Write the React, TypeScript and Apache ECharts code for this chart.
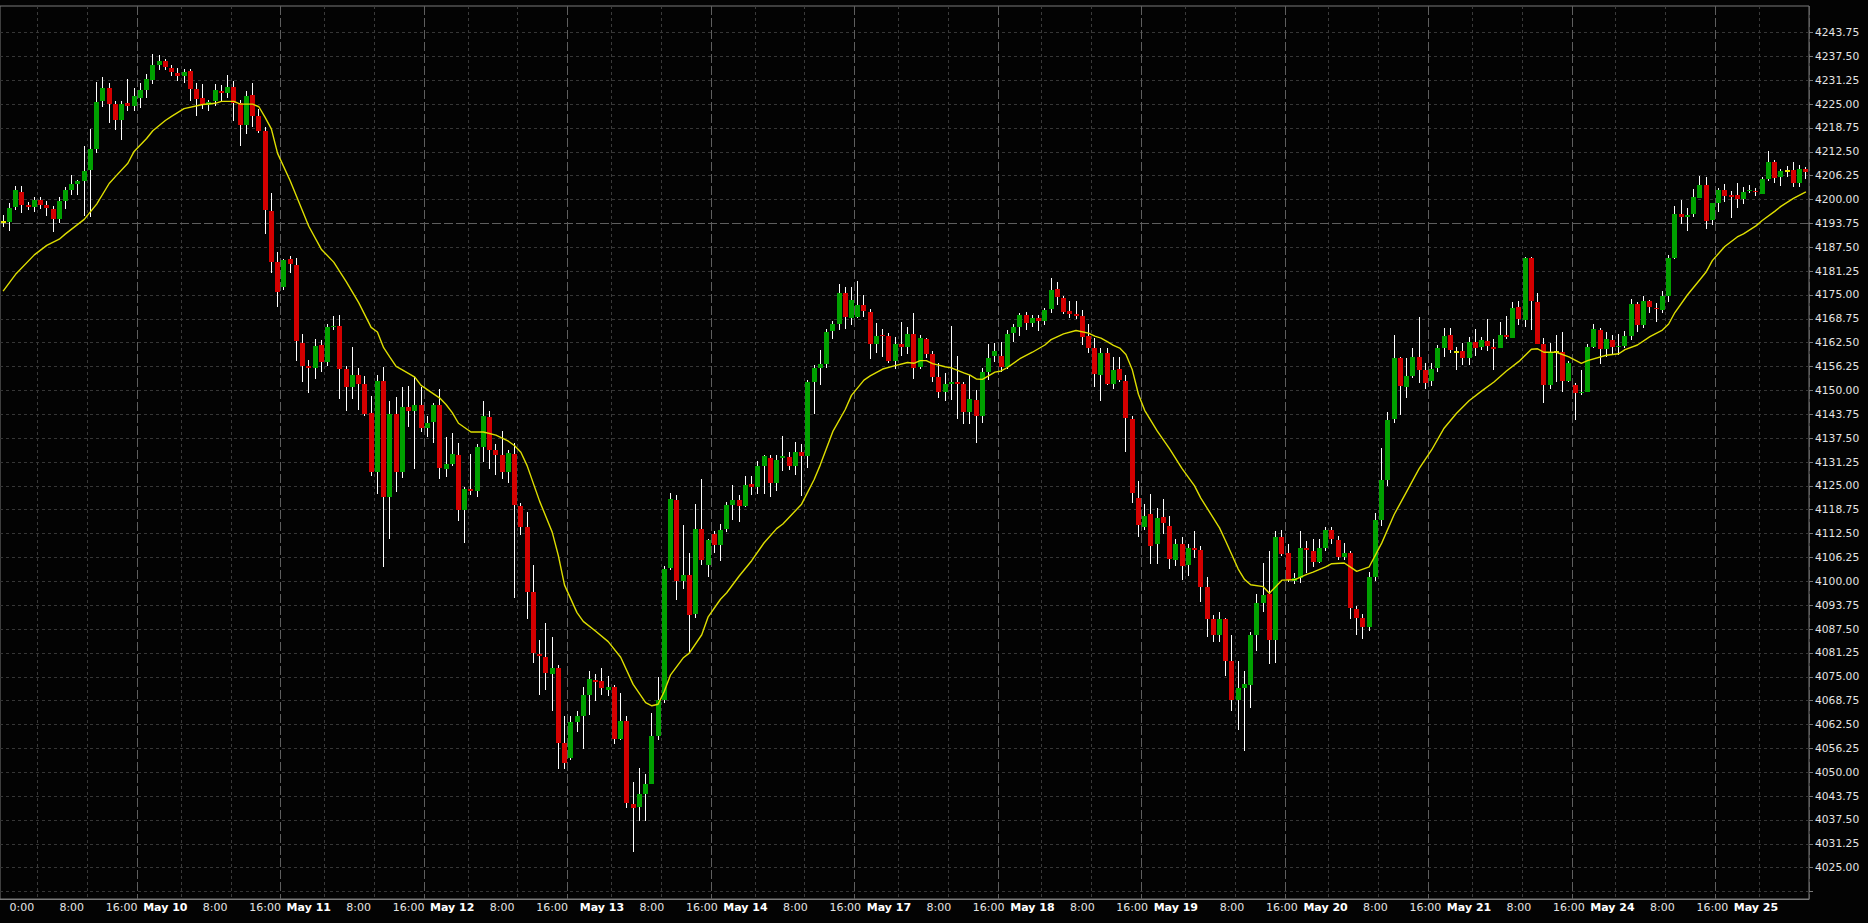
import React, { useEffect, useRef } from "react";
import * as echarts from "echarts";

// [open, close, low, high] — hourly bars
const bars: number[][] = [
  [4194.0, 4194.0, 4192.9, 4195.9], [4194.2, 4197.9, 4191.8, 4199.2], [4198.1, 4202.5, 4197.3, 4203.6], [4202.1, 4198.6, 4196.5, 4203.5],
  [4198.6, 4198.1, 4197.2, 4199.3], [4198.1, 4199.9, 4196.7, 4200.6], [4199.9, 4198.6, 4197.4, 4200.6], [4198.6, 4197.9, 4195.6, 4199.5],
  [4197.5, 4194.9, 4191.5, 4198.3], [4194.9, 4199.6, 4193.9, 4200.7], [4199.6, 4202.5, 4197.6, 4203.2], [4202.5, 4204.0, 4201.2, 4206.5],
  [4204.0, 4204.8, 4201.2, 4205.1], [4204.8, 4207.4, 4195.6, 4214.0], [4207.7, 4213.2, 4195.3, 4218.5], [4213.2, 4225.5, 4212.3, 4230.8],
  [4225.7, 4229.2, 4224.3, 4232.0], [4229.2, 4225.0, 4220.1, 4230.5], [4225.0, 4220.7, 4218.2, 4225.7], [4220.9, 4225.0, 4215.7, 4225.7],
  [4225.3, 4224.6, 4223.3, 4231.6], [4224.6, 4227.1, 4223.3, 4229.2], [4226.6, 4228.7, 4224.0, 4230.5], [4228.7, 4231.6, 4226.6, 4233.0],
  [4231.3, 4235.2, 4230.2, 4238.1], [4235.3, 4236.2, 4233.9, 4237.9], [4236.2, 4234.6, 4233.9, 4236.9], [4234.5, 4233.3, 4232.4, 4235.2],
  [4233.2, 4232.4, 4231.0, 4234.5], [4232.4, 4233.4, 4230.4, 4234.1], [4233.6, 4229.0, 4225.7, 4234.3], [4229.0, 4226.4, 4222.0, 4230.4],
  [4226.6, 4224.8, 4223.8, 4230.2], [4224.8, 4225.5, 4223.3, 4226.2], [4225.7, 4228.7, 4224.6, 4230.2], [4228.3, 4227.9, 4225.9, 4230.1],
  [4227.9, 4229.6, 4226.6, 4232.7], [4229.6, 4225.3, 4220.5, 4231.0], [4225.2, 4219.6, 4214.0, 4226.2], [4219.6, 4227.1, 4217.1, 4228.5],
  [4227.4, 4221.8, 4219.0, 4230.4], [4221.8, 4217.9, 4217.3, 4223.6], [4217.9, 4197.3, 4190.9, 4219.0], [4197.0, 4183.6, 4180.8, 4201.8],
  [4183.6, 4175.9, 4171.8, 4186.2], [4177.0, 4184.1, 4176.3, 4184.5], [4184.3, 4183.1, 4180.8, 4185.3], [4182.8, 4163.0, 4157.6, 4184.8],
  [4162.5, 4156.5, 4152.3, 4164.7], [4156.5, 4155.8, 4149.2, 4157.9], [4156.0, 4161.6, 4152.9, 4163.5], [4161.9, 4157.4, 4154.8, 4163.2],
  [4157.4, 4166.5, 4156.3, 4167.5], [4166.5, 4166.9, 4165.8, 4169.6], [4166.9, 4155.7, 4147.8, 4169.7], [4155.5, 4151.0, 4144.5, 4156.5],
  [4151.0, 4154.1, 4147.8, 4161.3], [4154.1, 4151.8, 4145.0, 4156.0], [4151.6, 4143.8, 4143.2, 4153.8], [4144.1, 4128.7, 4127.5, 4148.5],
  [4128.7, 4152.4, 4122.8, 4154.1], [4152.4, 4122.0, 4103.8, 4156.2], [4122.0, 4143.8, 4111.1, 4147.1], [4143.8, 4128.7, 4123.5, 4148.2],
  [4128.7, 4145.7, 4127.0, 4150.8], [4145.7, 4144.5, 4140.5, 4151.1], [4144.5, 4146.2, 4129.5, 4153.6], [4146.2, 4140.1, 4139.1, 4150.8],
  [4140.1, 4141.5, 4137.7, 4143.4], [4141.7, 4146.2, 4136.3, 4146.6], [4146.3, 4129.8, 4126.7, 4150.4], [4129.5, 4130.7, 4127.3, 4137.7],
  [4130.7, 4133.3, 4130.1, 4138.9], [4133.1, 4118.6, 4115.8, 4136.3], [4118.6, 4124.3, 4110.1, 4124.8], [4124.3, 4123.6, 4122.6, 4133.4],
  [4123.6, 4135.3, 4122.0, 4136.0], [4135.3, 4143.3, 4131.2, 4147.1], [4143.1, 4134.3, 4129.5, 4144.6], [4134.3, 4133.2, 4127.8, 4136.0],
  [4133.2, 4128.6, 4126.7, 4139.4], [4128.6, 4133.6, 4125.7, 4134.3], [4133.4, 4120.0, 4095.6, 4136.2], [4119.7, 4114.3, 4112.2, 4120.5],
  [4114.1, 4097.2, 4090.0, 4118.2], [4097.2, 4081.1, 4078.5, 4104.4], [4080.9, 4080.4, 4070.1, 4084.5], [4080.1, 4076.0, 4071.6, 4089.1],
  [4075.7, 4077.3, 4065.9, 4085.3], [4077.3, 4057.6, 4050.9, 4078.0], [4057.7, 4052.3, 4050.9, 4064.6], [4053.7, 4063.2, 4053.2, 4064.6],
  [4063.2, 4064.6, 4060.6, 4066.1], [4064.8, 4070.3, 4056.1, 4072.3], [4070.3, 4074.4, 4065.1, 4076.5], [4074.2, 4073.6, 4068.7, 4075.6],
  [4073.9, 4072.0, 4070.1, 4077.3], [4071.6, 4072.4, 4070.0, 4075.1], [4072.3, 4058.7, 4057.5, 4072.9], [4058.7, 4063.5, 4058.4, 4070.8],
  [4063.5, 4042.0, 4040.7, 4064.6], [4041.6, 4040.7, 4029.1, 4047.5], [4041.0, 4044.2, 4037.3, 4051.1], [4044.2, 4047.0, 4037.1, 4049.5],
  [4047.0, 4059.6, 4046.8, 4065.6], [4059.6, 4068.9, 4058.4, 4074.9], [4068.9, 4103.2, 4068.2, 4103.9], [4103.6, 4121.5, 4102.9, 4123.1],
  [4121.3, 4100.0, 4095.1, 4122.6], [4100.0, 4101.6, 4098.0, 4114.8], [4101.6, 4091.3, 4081.4, 4107.5], [4091.5, 4113.7, 4090.3, 4120.3],
  [4113.7, 4105.7, 4104.2, 4126.9], [4104.2, 4110.9, 4101.1, 4111.2], [4112.4, 4109.6, 4107.5, 4113.2], [4109.6, 4113.4, 4105.2, 4115.1],
  [4113.7, 4120.0, 4113.0, 4120.8], [4120.0, 4121.3, 4116.0, 4125.2], [4121.3, 4119.8, 4115.5, 4122.6], [4119.8, 4125.2, 4119.5, 4127.7],
  [4125.4, 4124.8, 4122.6, 4127.7], [4124.8, 4130.1, 4122.9, 4131.4], [4130.1, 4132.7, 4122.9, 4133.2], [4132.4, 4125.7, 4122.0, 4133.1],
  [4125.7, 4131.7, 4123.6, 4133.1], [4132.2, 4132.7, 4128.8, 4138.1], [4132.6, 4130.3, 4129.1, 4134.0], [4130.3, 4134.0, 4127.8, 4136.5],
  [4133.8, 4132.9, 4122.4, 4136.0], [4132.9, 4152.1, 4129.8, 4152.6], [4152.1, 4155.9, 4143.8, 4156.7], [4156.0, 4157.0, 4151.3, 4160.6],
  [4157.0, 4165.4, 4156.0, 4166.1], [4165.5, 4167.4, 4163.5, 4168.1], [4167.3, 4175.4, 4165.9, 4178.0], [4175.4, 4169.2, 4166.1, 4177.0],
  [4169.0, 4173.8, 4167.1, 4177.0], [4169.2, 4172.3, 4169.0, 4178.7], [4172.3, 4170.7, 4169.2, 4174.9], [4170.5, 4162.2, 4158.3, 4171.2],
  [4162.2, 4164.3, 4159.9, 4167.6], [4164.5, 4164.2, 4158.8, 4166.1], [4164.2, 4157.6, 4157.3, 4165.0], [4157.6, 4162.1, 4155.7, 4164.0],
  [4162.1, 4161.4, 4159.0, 4168.0], [4161.4, 4164.8, 4159.6, 4166.6], [4164.8, 4155.9, 4152.9, 4170.4], [4156.2, 4163.7, 4155.6, 4164.4],
  [4163.5, 4159.6, 4158.4, 4163.7], [4159.6, 4153.4, 4152.2, 4160.2], [4153.5, 4149.6, 4148.0, 4157.3], [4149.6, 4151.8, 4147.1, 4154.6],
  [4151.8, 4152.2, 4147.6, 4166.8], [4152.2, 4151.8, 4142.5, 4159.1], [4151.8, 4144.4, 4141.1, 4152.2], [4144.4, 4147.8, 4141.1, 4154.0],
  [4147.5, 4143.4, 4136.3, 4150.0], [4143.4, 4154.9, 4141.4, 4155.8], [4154.9, 4158.4, 4152.7, 4162.1], [4158.9, 4160.4, 4157.5, 4162.4],
  [4159.0, 4156.2, 4154.9, 4162.8], [4156.2, 4164.8, 4155.6, 4165.7], [4165.0, 4166.6, 4162.8, 4167.3], [4166.6, 4169.7, 4164.2, 4170.4],
  [4169.7, 4167.7, 4165.9, 4170.6], [4167.7, 4168.9, 4166.6, 4169.7], [4168.9, 4168.3, 4165.5, 4169.7], [4168.3, 4171.1, 4167.1, 4171.7],
  [4171.3, 4176.3, 4170.4, 4179.5], [4176.6, 4174.5, 4172.4, 4178.3], [4174.3, 4170.6, 4169.9, 4174.8], [4170.8, 4169.9, 4168.9, 4173.5],
  [4170.1, 4169.5, 4168.6, 4173.5], [4169.5, 4163.9, 4161.9, 4171.0], [4164.2, 4161.2, 4159.9, 4167.4], [4161.2, 4154.2, 4150.9, 4163.7],
  [4154.0, 4159.9, 4147.3, 4161.2], [4159.9, 4151.8, 4151.3, 4161.1], [4151.8, 4155.3, 4150.3, 4158.8], [4155.6, 4152.7, 4152.2, 4158.8],
  [4152.4, 4142.9, 4133.8, 4154.0], [4142.6, 4123.0, 4120.5, 4143.2], [4121.9, 4114.8, 4111.5, 4126.4], [4114.1, 4117.2, 4113.4, 4120.3],
  [4117.5, 4109.3, 4104.6, 4122.8], [4109.9, 4116.6, 4104.6, 4119.3], [4116.8, 4115.2, 4112.4, 4121.6], [4114.6, 4105.9, 4103.1, 4117.0],
  [4105.7, 4109.9, 4104.0, 4111.0], [4109.9, 4104.1, 4100.4, 4111.5], [4104.2, 4108.6, 4101.3, 4109.7], [4108.6, 4108.1, 4106.2, 4113.2],
  [4108.1, 4098.5, 4094.5, 4109.3], [4098.5, 4090.0, 4085.4, 4101.0], [4090.0, 4086.0, 4084.0, 4091.3], [4086.0, 4090.0, 4084.2, 4092.0],
  [4090.0, 4079.2, 4075.2, 4090.5], [4079.2, 4069.0, 4065.9, 4086.0], [4069.0, 4072.1, 4061.0, 4079.2], [4072.1, 4073.1, 4055.5, 4076.5],
  [4072.9, 4086.0, 4066.8, 4086.7], [4086.0, 4094.2, 4081.8, 4096.6], [4094.2, 4096.4, 4092.0, 4104.8], [4096.6, 4084.5, 4078.3, 4107.9],
  [4084.7, 4111.5, 4078.5, 4113.2], [4111.5, 4107.2, 4106.6, 4113.4], [4107.5, 4100.4, 4099.9, 4109.7], [4100.2, 4100.9, 4099.3, 4102.2],
  [4100.9, 4108.6, 4099.5, 4113.1], [4108.6, 4108.2, 4102.2, 4110.6], [4107.9, 4105.1, 4103.7, 4111.0], [4105.1, 4108.6, 4104.8, 4111.0],
  [4108.8, 4113.5, 4107.9, 4114.1], [4113.4, 4111.0, 4109.7, 4114.3], [4110.8, 4106.3, 4105.5, 4111.9], [4106.3, 4107.5, 4105.7, 4110.1],
  [4107.3, 4092.9, 4090.1, 4107.9], [4092.7, 4090.4, 4086.0, 4093.5], [4090.4, 4088.0, 4085.0, 4091.5], [4088.0, 4101.0, 4087.0, 4102.5],
  [4101.0, 4116.0, 4100.0, 4118.0], [4116.0, 4126.5, 4114.5, 4134.8], [4126.5, 4142.3, 4125.0, 4144.4], [4142.4, 4158.6, 4141.5, 4164.5],
  [4158.6, 4151.2, 4143.6, 4158.8], [4151.0, 4153.9, 4148.1, 4158.4], [4153.9, 4158.7, 4153.3, 4161.0], [4158.8, 4155.4, 4151.9, 4169.1],
  [4155.4, 4152.0, 4150.5, 4157.1], [4152.5, 4155.5, 4151.2, 4157.1], [4156.0, 4161.0, 4154.9, 4161.9], [4161.0, 4164.3, 4158.7, 4166.3],
  [4164.5, 4160.6, 4159.7, 4166.3], [4160.1, 4160.1, 4155.4, 4161.5], [4160.2, 4158.6, 4156.7, 4162.3], [4158.6, 4162.6, 4156.7, 4163.9],
  [4162.6, 4161.2, 4159.0, 4166.0], [4161.5, 4163.2, 4160.6, 4163.9], [4162.9, 4161.6, 4160.4, 4168.7], [4161.3, 4160.9, 4155.4, 4163.4],
  [4161.2, 4164.5, 4161.0, 4168.0], [4164.5, 4164.1, 4163.4, 4169.5], [4163.8, 4171.6, 4163.6, 4173.2], [4171.8, 4168.6, 4167.1, 4173.4],
  [4168.4, 4184.7, 4166.7, 4184.9], [4184.7, 4173.4, 4165.8, 4185.0], [4173.2, 4162.2, 4162.1, 4175.6], [4162.2, 4151.4, 4146.8, 4163.6],
  [4151.4, 4160.0, 4150.5, 4162.5], [4160.1, 4160.1, 4152.3, 4164.5], [4160.0, 4152.5, 4149.7, 4165.2], [4152.5, 4157.1, 4152.3, 4157.8],
  [4151.4, 4149.2, 4142.3, 4151.9], [4149.2, 4149.6, 4148.8, 4155.4], [4149.6, 4161.3, 4149.5, 4162.2], [4161.3, 4166.0, 4161.0, 4167.3],
  [4165.8, 4160.8, 4156.9, 4166.3], [4160.8, 4163.5, 4158.8, 4165.4], [4163.2, 4161.5, 4159.3, 4164.5], [4161.3, 4161.6, 4159.3, 4164.7],
  [4161.6, 4164.2, 4161.0, 4165.6], [4164.3, 4172.6, 4163.2, 4173.9], [4172.6, 4167.1, 4165.4, 4173.1], [4167.1, 4173.4, 4166.3, 4174.6],
  [4173.3, 4171.9, 4170.4, 4173.7], [4171.7, 4171.2, 4168.0, 4172.8], [4171.1, 4174.7, 4170.2, 4176.0], [4174.7, 4184.7, 4173.2, 4185.5],
  [4184.7, 4196.2, 4184.5, 4198.3], [4196.2, 4195.3, 4193.6, 4199.9], [4195.5, 4195.9, 4191.8, 4197.7], [4196.2, 4200.6, 4195.5, 4202.7],
  [4200.5, 4203.8, 4200.3, 4206.2], [4203.8, 4194.5, 4192.2, 4205.8], [4194.6, 4199.0, 4193.3, 4199.2], [4199.2, 4202.5, 4196.8, 4202.9],
  [4202.5, 4200.9, 4199.4, 4204.0], [4201.1, 4200.7, 4195.1, 4202.3], [4201.2, 4200.1, 4197.7, 4204.2], [4200.1, 4202.0, 4198.7, 4203.2],
  [4202.2, 4202.5, 4201.8, 4203.8], [4202.3, 4201.9, 4200.8, 4203.1], [4201.5, 4205.4, 4201.4, 4206.0], [4205.4, 4209.8, 4204.9, 4212.7],
  [4209.8, 4205.7, 4204.2, 4210.4], [4205.8, 4207.6, 4203.5, 4207.9], [4207.6, 4207.6, 4205.8, 4208.8], [4207.7, 4204.2, 4203.2, 4209.8],
  [4204.2, 4208.0, 4203.2, 4209.0], [4208.0, 4207.3, 4205.5, 4208.6],
];

// moving average: [bar index, value]
const maPoints: number[][] = [
  [0, 4176.0], [2, 4180.4], [5, 4185.5], [7, 4188.0], [9, 4189.6], [10, 4191.0], [13, 4194.8], [15, 4198.8], [17, 4204.2],
  [18, 4206.0], [20, 4209.5], [21, 4212.6], [23, 4216.0], [24, 4218.0], [26, 4220.7], [27, 4221.8], [29, 4223.8], [32, 4224.9],
  [34, 4225.2], [35, 4225.7], [37, 4225.7], [38, 4225.0], [40, 4225.0], [41, 4224.3], [42, 4221.5], [43, 4218.5], [44, 4212.1],
  [46, 4205.0], [47, 4201.0], [49, 4193.0], [51, 4187.0], [53, 4183.6], [55, 4178.5], [57, 4173.0], [59, 4166.5], [60, 4165.3],
  [61, 4161.2], [62, 4158.7], [63, 4156.3], [64, 4155.4], [66, 4153.5], [67, 4151.3], [68, 4150.2], [70, 4148.0], [71, 4146.3],
  [72, 4144.2], [73, 4141.4], [75, 4139.1], [77, 4139.1], [79, 4138.3], [81, 4136.7], [82, 4135.5], [83, 4133.8], [84, 4130.3],
  [86, 4121.0], [88, 4113.0], [89, 4106.8], [90, 4099.0], [92, 4091.8], [93, 4089.5], [95, 4086.9], [97, 4084.2], [99, 4080.1],
  [101, 4073.0], [103, 4068.2], [104, 4067.4], [105, 4067.8], [106, 4071.2], [107, 4075.5], [109, 4079.9], [110, 4081.2],
  [112, 4086.0], [113, 4090.6], [115, 4095.3], [116, 4097.0], [118, 4101.4], [120, 4105.4], [122, 4110.1], [124, 4113.8],
  [125, 4115.0], [128, 4120.2], [130, 4126.6], [131, 4130.5], [133, 4139.2], [135, 4145.0], [136, 4148.7], [138, 4152.7],
  [139, 4153.8], [141, 4155.6], [143, 4156.5], [145, 4157.3], [146, 4157.1], [147, 4157.8], [148, 4157.8], [149, 4157.0],
  [151, 4156.2], [152, 4155.9], [154, 4154.6], [155, 4154.0], [156, 4153.0], [157, 4152.9], [159, 4154.8], [160, 4155.1],
  [161, 4156.0], [163, 4158.3], [165, 4160.0], [167, 4161.9], [168, 4163.3], [170, 4164.8], [172, 4165.7], [174, 4165.0],
  [175, 4164.2], [176, 4163.7], [177, 4162.8], [178, 4161.8], [179, 4161.1], [180, 4159.4], [181, 4155.5], [182, 4149.0],
  [183, 4144.8], [185, 4139.4], [187, 4134.7], [189, 4129.5], [191, 4125.0], [192, 4121.8], [195, 4114.0], [196, 4110.5],
  [198, 4103.2], [199, 4100.5], [200, 4099.1], [202, 4098.6], [203, 4096.9], [204, 4098.6], [205, 4100.3], [207, 4100.4],
  [209, 4101.8], [210, 4102.4], [212, 4103.8], [213, 4104.6], [215, 4104.8], [216, 4103.7], [217, 4102.6], [219, 4103.8],
  [221, 4110.0], [223, 4117.5], [225, 4123.5], [227, 4129.5], [229, 4134.4], [231, 4140.1], [233, 4144.0], [235, 4147.3],
  [237, 4149.8], [239, 4152.2], [241, 4155.1], [243, 4157.6], [245, 4160.8], [246, 4160.9], [247, 4160.0], [249, 4160.0],
  [251, 4158.8], [253, 4157.1], [254, 4157.8], [257, 4159.2], [259, 4159.6], [260, 4160.7], [262, 4161.9], [264, 4164.1],
  [266, 4165.8], [267, 4167.4], [268, 4170.4], [270, 4175.0], [272, 4179.0], [273, 4181.0], [274, 4184.0], [276, 4187.7],
  [278, 4190.2], [279, 4191.0], [281, 4193.1], [282, 4194.5], [284, 4196.9], [285, 4198.2], [287, 4200.3], [289, 4202.0],
];

const sessionDates = ["May 10", "May 11", "May 12", "May 13", "May 14", "May 17", "May 18", "May 19", "May 20", "May 21", "May 24", "May 25"];
const eveningDates = ["May 9", "May 10", "May 11", "May 12", "May 13", "May 16", "May 17", "May 18", "May 19", "May 20", "May 23", "May 24"];

const tickBars = [3, 11, 19, 26, 34, 42, 49, 57, 65, 72, 80, 88, 96, 104, 112, 119, 127, 135, 142, 150, 158, 165, 173, 181, 188, 197, 205, 212, 220, 228, 235, 243, 251, 258, 266, 274, 281];
const tickTexts = ["0:00", "8:00", "16:00", "May 10", "8:00", "16:00", "May 11", "8:00", "16:00", "May 12", "8:00", "16:00", "May 13", "8:00", "16:00", "May 14", "8:00", "16:00", "May 17", "8:00", "16:00", "May 18", "8:00", "16:00", "May 19", "8:00", "16:00", "May 20", "8:00", "16:00", "May 21", "8:00", "16:00", "May 24", "8:00", "16:00", "May 25"];

const hourLineBars = [6, 14, 29, 37, 52, 60, 75, 83, 98, 106, 121, 129, 144, 152, 167, 175, 190, 198, 213, 221, 236, 244, 259, 267, 282];
const sessionLineBars = [22, 45, 68, 91, 114, 137, 160, 183, 206, 229, 252, 275];

const markedLevel = 4193.75;
const yMin = 4018.75;
const yMax = 4243.75;
const yStep = 6.25;

const categories: string[] = (() => {
  const out: string[] = [];
  for (let h = 18; h < 24; h++) out.push(`May 6 ${h}:00`);
  for (let h = 0; h < 16; h++) out.push(`May 7 ${h}:00`);
  for (let d = 0; d < sessionDates.length; d++) {
    for (let h = 17; h < 24; h++) out.push(`${eveningDates[d]} ${h}:00`);
    for (let h = 0; h < 16; h++) out.push(`${sessionDates[d]} ${h}:00`);
  }
  return out.slice(0, bars.length);
})();

const GREEN = "#00a000";
const RED = "#d40000";
const DOJI = "#e6e600";
const FONT = "DejaVu Sans";

export default function App() {
  const ref = useRef<HTMLDivElement>(null);

  useEffect(() => {
    document.body.style.margin = "0";
    document.body.style.background = "#000";
    const chart = echarts.init(ref.current as HTMLDivElement, null, { renderer: "svg" });

    const candleData = bars.map((b, i) => [i, b[0], b[1], b[2], b[3]]);
    const maData: (number | null)[] = categories.map(() => null);
    maPoints.forEach(([i, v]) => { maData[i] = v; });

    const gridSide = { left: 0, right: 59 };

    const option: any = {
      animation: false,
      backgroundColor: "#030303",
      grid: [
        { ...gridSide, top: 6, bottom: 24, show: true, borderColor: "#7a7a7a", borderWidth: 1, backgroundColor: "transparent" },
        { ...gridSide, top: 32.5, bottom: 31.5 },
      ],
      xAxis: [
        {
          type: "category", gridIndex: 0, data: categories, boundaryGap: true, position: "bottom",
          axisLine: { show: true, lineStyle: { color: "#7a7a7a" } },
          axisTick: { show: false },
          axisLabel: {
            interval: (index: number) => tickBars.includes(index),
            margin: 3,
            formatter: (value: string) => {
              const k = tickBars.indexOf(categories.indexOf(value));
              if (k < 0) return "";
              const t = tickTexts[k];
              return t.startsWith("May") ? `{d|${t}}` : `{t|${t}}`;
            },
            rich: {
              t: { color: "#e4e4e4", fontSize: 11, fontFamily: FONT },
              d: { color: "#ffffff", fontSize: 11, fontWeight: "bold", fontFamily: FONT },
            },
          },
          splitLine: {
            show: true,
            interval: (index: number) => hourLineBars.includes(index),
            lineStyle: { color: "#3a3a3a", type: [3, 3], width: 1 },
          },
        },
        {
          type: "category", gridIndex: 0, data: categories, boundaryGap: true, position: "top",
          axisLine: { show: false }, axisTick: { show: false }, axisLabel: { show: false },
          splitLine: {
            show: true,
            interval: (index: number) => sessionLineBars.includes(index),
            lineStyle: { color: "#5e5e5e", type: [9, 3], width: 1 },
          },
        },
        { type: "category", gridIndex: 1, data: categories, boundaryGap: true, show: false },
      ],
      yAxis: [
        { type: "value", gridIndex: 0, min: 0, max: 1, show: false },
        {
          type: "value", gridIndex: 1, position: "right", min: yMin, max: yMax, interval: yStep,
          axisLine: { show: false },
          axisTick: { show: true, length: 4, lineStyle: { color: "#7a7a7a" } },
          axisLabel: {
            margin: 6, color: "#e4e4e4", fontSize: 10.7, fontFamily: FONT,
            formatter: (v: number) => (v < yMin + 1 ? "" : v.toFixed(2)),
          },
          splitLine: { show: true, lineStyle: { color: "#363636", type: [3, 3], width: 1 } },
        },
      ],
      series: [
        {
          type: "custom",
          xAxisIndex: 2,
          yAxisIndex: 1,
          silent: true,
          encode: { x: 0, y: [1, 2, 3, 4] },
          data: candleData,
          renderItem: (params: any, api: any) => {
            const idx = api.value(0);
            const o = api.value(1);
            const c = api.value(2);
            const l = api.value(3);
            const h = api.value(4);
            const pO = api.coord([idx, o]);
            const yC = api.coord([idx, c])[1];
            const yL = api.coord([idx, l])[1];
            const yH = api.coord([idx, h])[1];
            const left = Math.round(pO[0] - 2.5);
            const wickX = left + 2.5;
            const color = c > o ? GREEN : c < o ? RED : DOJI;
            let top = Math.round(Math.min(pO[1], yC));
            let bottom = Math.round(Math.max(pO[1], yC));
            if (c === o) {
              top = Math.round(pO[1]) - 1;
              bottom = top + 2;
            } else if (bottom - top < 1) {
              bottom = top + 1;
            }
            return {
              type: "group",
              children: [
                {
                  type: "line",
                  shape: { x1: wickX, y1: Math.round(yH), x2: wickX, y2: Math.round(yL) },
                  style: { stroke: "#ffffff", lineWidth: 1 },
                },
                {
                  type: "rect",
                  shape: { x: left, y: top, width: 5, height: bottom - top },
                  style: { fill: color },
                },
              ],
            };
          },
        },
        {
          type: "line",
          xAxisIndex: 2,
          yAxisIndex: 1,
          data: maData,
          connectNulls: true,
          showSymbol: false,
          silent: true,
          lineStyle: { color: "#dede00", width: 1.4 },
          markLine: {
            silent: true,
            z: 1,
            symbol: ["none", "none"],
            label: { show: false },
            lineStyle: { color: "#5e5e5e", type: [9, 3], width: 1 },
            data: [{ yAxis: markedLevel }],
          },
        },
      ],
    };

    chart.setOption(option);
    return () => chart.dispose();
  }, []);

  return (
    <div
      ref={ref}
      style={{ position: "absolute", left: 0, top: 0, width: 1868, height: 923, background: "#030303" }}
    />
  );
}
